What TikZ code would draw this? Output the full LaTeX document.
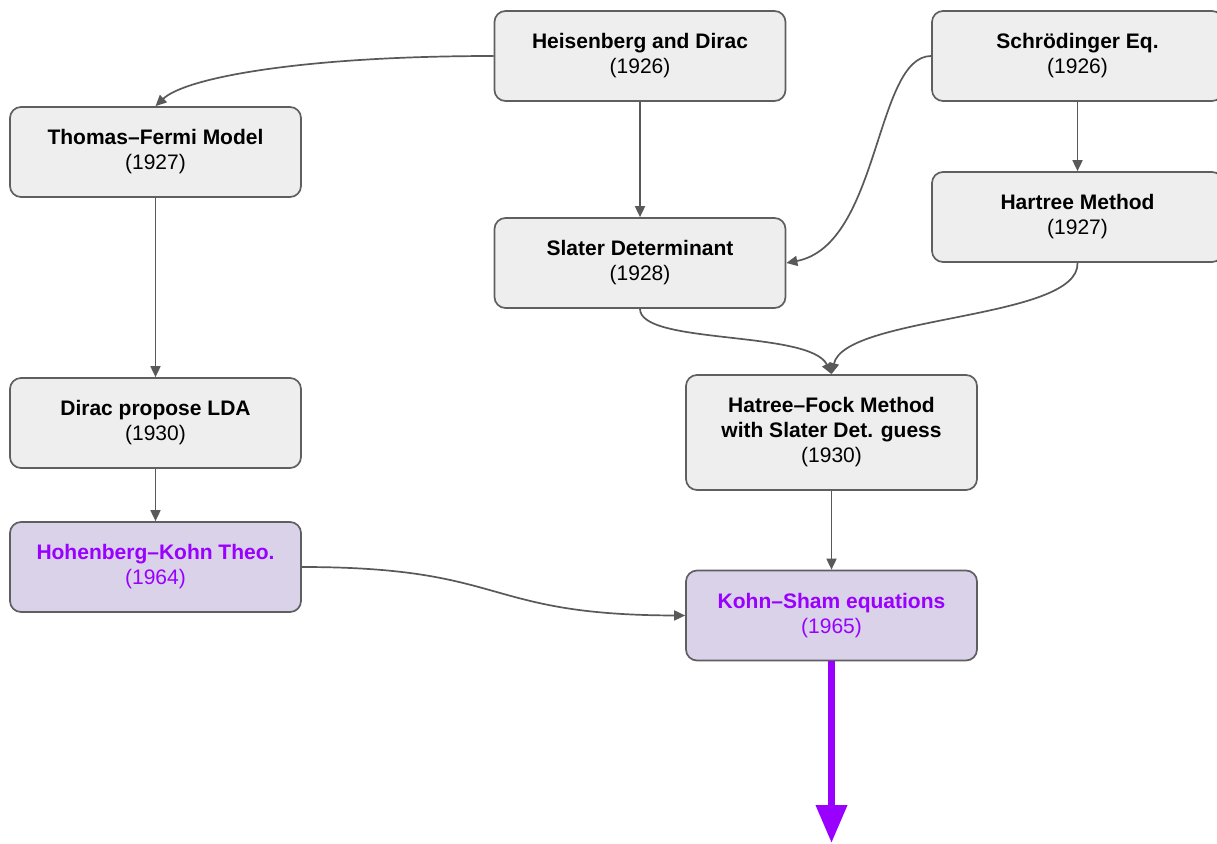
\documentclass[tikz,border=0pt]{standalone}
\usepackage{fontspec}
\setmainfont{Liberation Sans}
\usetikzlibrary{arrows.meta}
\definecolor{boxfill}{HTML}{EEEEEE}
\definecolor{boxline}{HTML}{5F5F5F}
\definecolor{linkgray}{HTML}{595959}
\definecolor{dftfill}{HTML}{D9D2E9}
\definecolor{dftpurple}{HTML}{9900FF}
\tikzset{
  event/.style={draw=boxline, line width=1.7pt, fill=boxfill, rounded corners=11pt,
    minimum width=291pt, minimum height=90pt, align=center, inner sep=0pt,
    font=\fontsize{21}{25}\selectfont},
  dftevent/.style={event, fill=dftfill, text=dftpurple},
  link/.style={draw=linkgray, line width=1.7pt, -{Triangle[length=11pt,width=10pt]}},
  future/.style={draw=dftpurple, line width=7pt, -{Triangle[length=38pt,width=30pt]}}
}
\begin{document}
\begin{tikzpicture}[x=1pt,y=-1pt]
\clip (0,0) rectangle (1217,843);
\fill[white] (0,0) rectangle (1217,843);

% historical milestones
\node[event] (hd) at (640,56) {\textbf{Heisenberg and Dirac}\\(1926)};
\node[event] (se) at (1077.5,56) {\textbf{Schrödinger Eq.}\\(1926)};
\node[event] (tf) at (155.5,152) {\textbf{Thomas–Fermi Model}\\(1927)};
\node[event] (hm) at (1077.5,217) {\textbf{Hartree Method}\\(1927)};
\node[event] (sd) at (640,263) {\textbf{Slater Determinant}\\(1928)};
\node[event] (lda) at (155.5,423) {\textbf{Dirac propose LDA}\\(1930)};
\node[event, minimum height=115pt] (hf) at (831.5,432.5)
  {\textbf{Hatree–Fock Method}\\\textbf{with Slater Det. guess}\\(1930)};
\node[dftevent] (hk) at (155.5,567) {\textbf{Hohenberg–Kohn Theo.}\\(1964)};
\node[dftevent] (ks) at (831.5,615.5) {\textbf{Kohn–Sham equations}\\(1965)};

% connections
\draw[link] (hd.west) .. controls (300,56) and (185,78) .. (tf.north);
\draw[link] (hd.south) -- (sd.north);
\draw[link] (se.west) .. controls (875,56) and (880,245) .. (sd.east);
\draw[link] (se.south) -- (hm.north);
\draw[link] (hm.south) .. controls (1080,320) and (845,315) .. (hf.north);
\draw[link] (sd.south) .. controls (640,345) and (810,330) .. (hf.north);
\draw[link] (tf.south) -- (lda.north);
\draw[link] (lda.south) -- (hk.north);
\draw[link] (hk.east) .. controls (510,567) and (480,615) .. (ks.west);
\draw[link] (hf.south) -- (ks.north);

% onward development
\coordinate (next) at (831.5,843);
\draw[future] (ks.south) -- (next);
\end{tikzpicture}
\end{document}
